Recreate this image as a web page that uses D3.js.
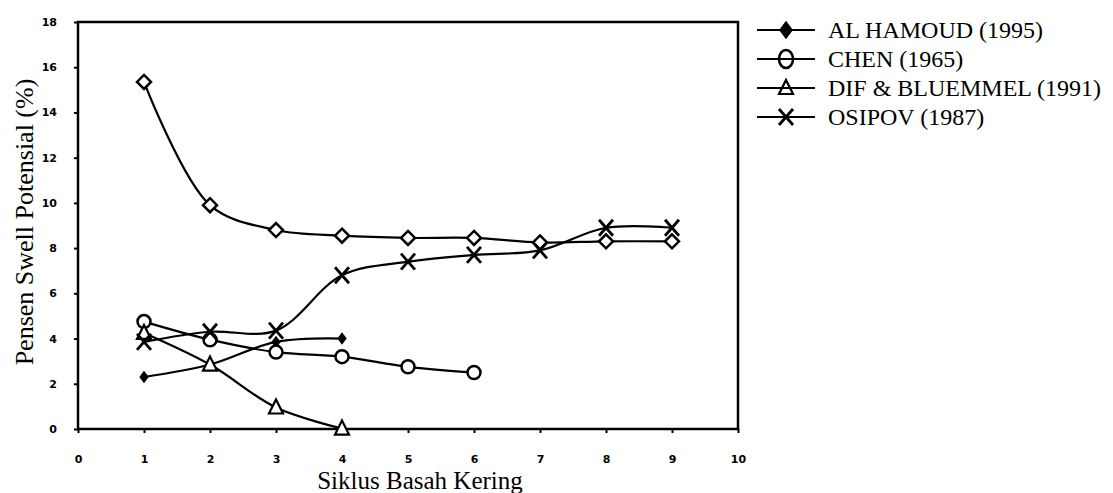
<!DOCTYPE html>
<html>
<head>
<meta charset="utf-8">
<script src="https://cdn.jsdelivr.net/npm/d3@7"></script>
<style>
body{margin:0;background:#fff;}
</style>
</head>
<body>
<svg id="chart" width="1113" height="493"></svg>
<script>
// siklus (x) for each series
var cyclesLong = [1, 2, 3, 4, 5, 6, 7, 8, 9];
var cyclesFour = [1, 2, 3, 4];
var cyclesSix = [1, 2, 3, 4, 5, 6];

// swell potential values (%)
var topDiamond = [15.35, 9.9, 8.8, 8.55, 8.45, 8.45, 8.25, 8.3, 8.3];
var alHamoud = [2.3, 2.85, 3.85, 4.0];
var chen = [4.75, 3.95, 3.4, 3.2, 2.75, 2.5];
var difBluemmel = [4.25, 2.85, 0.95, 0.02];
var osipov = [3.85, 4.3, 4.35, 6.8, 7.4, 7.7, 7.9, 8.9, 8.9];

var xTicks = [0, 1, 2, 3, 4, 5, 6, 7, 8, 9, 10];
var yTicks = [0, 2, 4, 6, 8, 10, 12, 14, 16, 18];

var legendNames = ["AL HAMOUD (1995)", "CHEN (1965)", "DIF & BLUEMMEL (1991)", "OSIPOV (1987)"];
var legendMarks = ["diamondFilled", "circle", "triangle", "cross"];

var series = [
    {x: cyclesLong, y: topDiamond, mark: "diamond"},
    {x: cyclesFour, y: alHamoud, mark: "diamondFilledSmall"},
    {x: cyclesSix, y: chen, mark: "circle"},
    {x: cyclesFour, y: difBluemmel, mark: "triangle"},
    {x: cyclesLong, y: osipov, mark: "cross"}
];

var svg = d3.select("#chart");

var xMap = d3.scaleLinear().domain([0, 10]).range([78, 738]);
var yMap = d3.scaleLinear().domain([0, 18]).range([429, 22]);

// frame
svg.append("rect")
    .attr("x", xMap(0)).attr("y", yMap(18))
    .attr("width", xMap(10) - xMap(0)).attr("height", yMap(0) - yMap(18))
    .attr("fill", "none").attr("stroke", "#000").attr("stroke-width", 2.5);

// axes (ticks + small bold labels)
var xAxis = d3.axisBottom(xMap).tickValues(xTicks).tickSize(4).tickPadding(22);
var yAxis = d3.axisLeft(yMap).tickValues(yTicks).tickSize(4).tickPadding(17);

var gx = svg.append("g").attr("transform", "translate(0," + yMap(0) + ")").call(xAxis);
var gy = svg.append("g").attr("transform", "translate(" + xMap(0) + ",0)").call(yAxis);
[gx, gy].forEach(function (g) {
    g.select(".domain").remove();
    g.selectAll("line").attr("stroke", "#000").attr("stroke-width", 2);
    g.selectAll("text")
        .attr("font-family", "'DejaVu Sans', sans-serif")
        .attr("font-weight", "bold")
        .attr("font-size", 11)
        .attr("fill", "#000");
});

// axis titles
svg.append("text")
    .attr("x", 420).attr("y", 489)
    .attr("text-anchor", "middle")
    .attr("font-family", "'Liberation Serif', serif")
    .attr("font-size", 25)
    .text("Siklus Basah Kering");

svg.append("text")
    .attr("transform", "translate(33,222) rotate(-90)")
    .attr("text-anchor", "middle")
    .attr("font-family", "'Liberation Serif', serif")
    .attr("font-size", 26)
    .text("Pensen Swell Potensial (%)");

// marker shapes
function drawMark(g, type, cx, cy, legend) {
    var fill = legend ? "none" : "#fff";
    if (type === "diamond") {
        g.append("path").attr("d", "M0,-7L7,0L0,7L-7,0Z")
            .attr("transform", "translate(" + cx + "," + cy + ")")
            .attr("fill", fill).attr("stroke", "#000").attr("stroke-width", 2.5);
    } else if (type === "diamondFilled" || type === "diamondFilledSmall") {
        var r = type === "diamondFilled" ? 8 : 5;
        g.append("path").attr("d", "M0," + (-r) + "L" + (r * 0.75) + ",0L0," + r + "L" + (-r * 0.75) + ",0Z")
            .attr("transform", "translate(" + cx + "," + cy + ")")
            .attr("fill", "#000").attr("stroke", "#000").attr("stroke-width", 1.5);
    } else if (type === "circle") {
        g.append("ellipse").attr("cx", cx).attr("cy", cy)
            .attr("rx", legend ? 7 : 6.5).attr("ry", legend ? 9 : 6.5)
            .attr("fill", fill).attr("stroke", "#000").attr("stroke-width", 2.5);
    } else if (type === "triangle") {
        g.append("path").attr("d", "M0,-8L7,6L-7,6Z")
            .attr("transform", "translate(" + cx + "," + cy + ")")
            .attr("fill", fill).attr("stroke", "#000").attr("stroke-width", 2.2);
    } else if (type === "cross") {
        g.append("path").attr("d", "M-7,-8L7,8M7,-8L-7,8")
            .attr("transform", "translate(" + cx + "," + cy + ")")
            .attr("fill", "none").attr("stroke", "#000").attr("stroke-width", 2.8);
    }
}

// lines
var line = d3.line()
    .x(function (d) { return xMap(d[0]); })
    .y(function (d) { return yMap(d[1]); })
    .curve(d3.curveCatmullRom.alpha(0.5));

var plot = svg.append("g");
series.forEach(function (s) {
    var pts = s.x.map(function (v, i) { return [v, s.y[i]]; });
    plot.append("path").attr("d", line(pts))
        .attr("fill", "none").attr("stroke", "#000").attr("stroke-width", 2.2);
});
series.forEach(function (s) {
    s.x.forEach(function (v, i) {
        drawMark(plot, s.mark, xMap(v), yMap(s.y[i]), false);
    });
});

// legend
var legendY = d3.scaleLinear().domain([0, 3]).range([30, 117]);
var lg = svg.append("g");
legendNames.forEach(function (name, i) {
    var y = legendY(i);
    lg.append("line").attr("x1", 757).attr("x2", 815).attr("y1", y).attr("y2", y)
        .attr("stroke", "#000").attr("stroke-width", 2);
    drawMark(lg, legendMarks[i], 786, y, true);
    lg.append("text").attr("x", 828).attr("y", y + 8)
        .attr("font-family", "'Liberation Serif', serif")
        .attr("font-size", 24)
        .text(name);
});
</script>
</body>
</html>
